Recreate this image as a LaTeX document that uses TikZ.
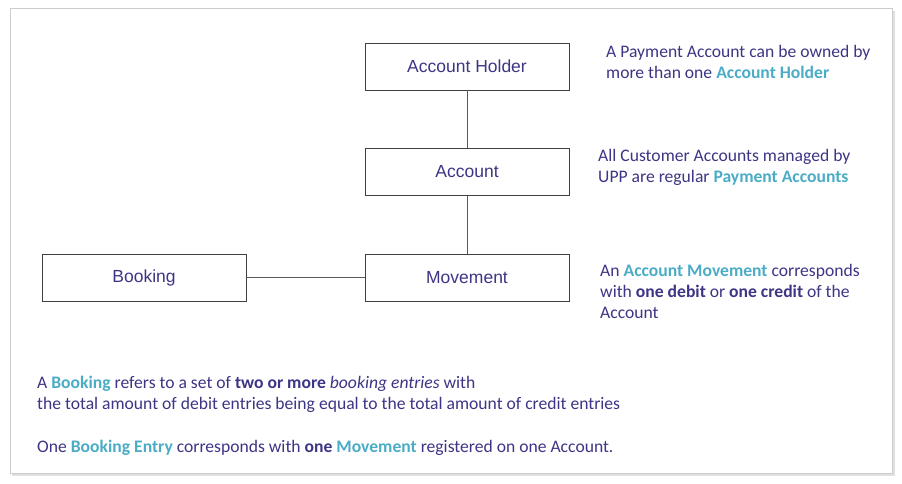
\documentclass[tikz,border=0pt]{standalone}
\usepackage{fontspec}
\setmainfont{Carlito}
\newfontfamily\boxfont{Liberation Sans}
\definecolor{purp}{HTML}{3D3585}
\definecolor{teal2}{HTML}{4BACC6}
\newcommand{\hl}[1]{\textcolor{teal2}{\textbf{#1}}}
\tikzset{
  ent/.style={draw=black!75, line width=0.6pt, minimum width=204pt, minimum height=47pt, font=\boxfont\fontsize{17.5}{20}\selectfont, text=purp},
  note/.style={anchor=north west, align=left, font=\fontsize{17.6}{21}\selectfont, text=purp, inner sep=0pt},
  link/.style={draw=black!65, line width=0.6pt}
}
\begin{document}
\begin{tikzpicture}[x=1pt,y=-1pt]
\useasboundingbox (0,0) rectangle (902,484);
\fill[black!12] (12,11) rectangle (895,476);
\fill[white, draw=black!20] (10,8) rectangle (892,473);
\node[ent] (holder) at (467,66.5) {Account Holder};
\node[ent] (account) at (467,172) {Account};
\node[ent] (movement) at (467,277.5) {Movement};
\node[ent] (booking) at (144,277.5) {Booking};
\draw[link] (holder) -- (account);
\draw[link] (account) -- (movement);
\draw[link] (booking) -- (movement);
\node[note] (n1) at (606,45) {A Payment Account can be owned by\\more than one \hl{Account Holder}};
\node[note] (n2) at (598,149) {All Customer Accounts managed by\\UPP are regular \hl{Payment Accounts}};
\node[note] (n3) at (600,264) {An \hl{Account Movement} corresponds\\with \textbf{one debit} or \textbf{one credit} of the\\Account};
\node[note] (n4) at (37,376) {A \hl{Booking} refers to a set of \textbf{two or more} \textit{booking entries} with\\the total amount of debit entries being equal to the total amount of credit entries};
\node[note] (n5) at (37,440) {One \hl{Booking Entry} corresponds with \textbf{one} \hl{Movement} registered on one Account.};
\end{tikzpicture}
\end{document}
